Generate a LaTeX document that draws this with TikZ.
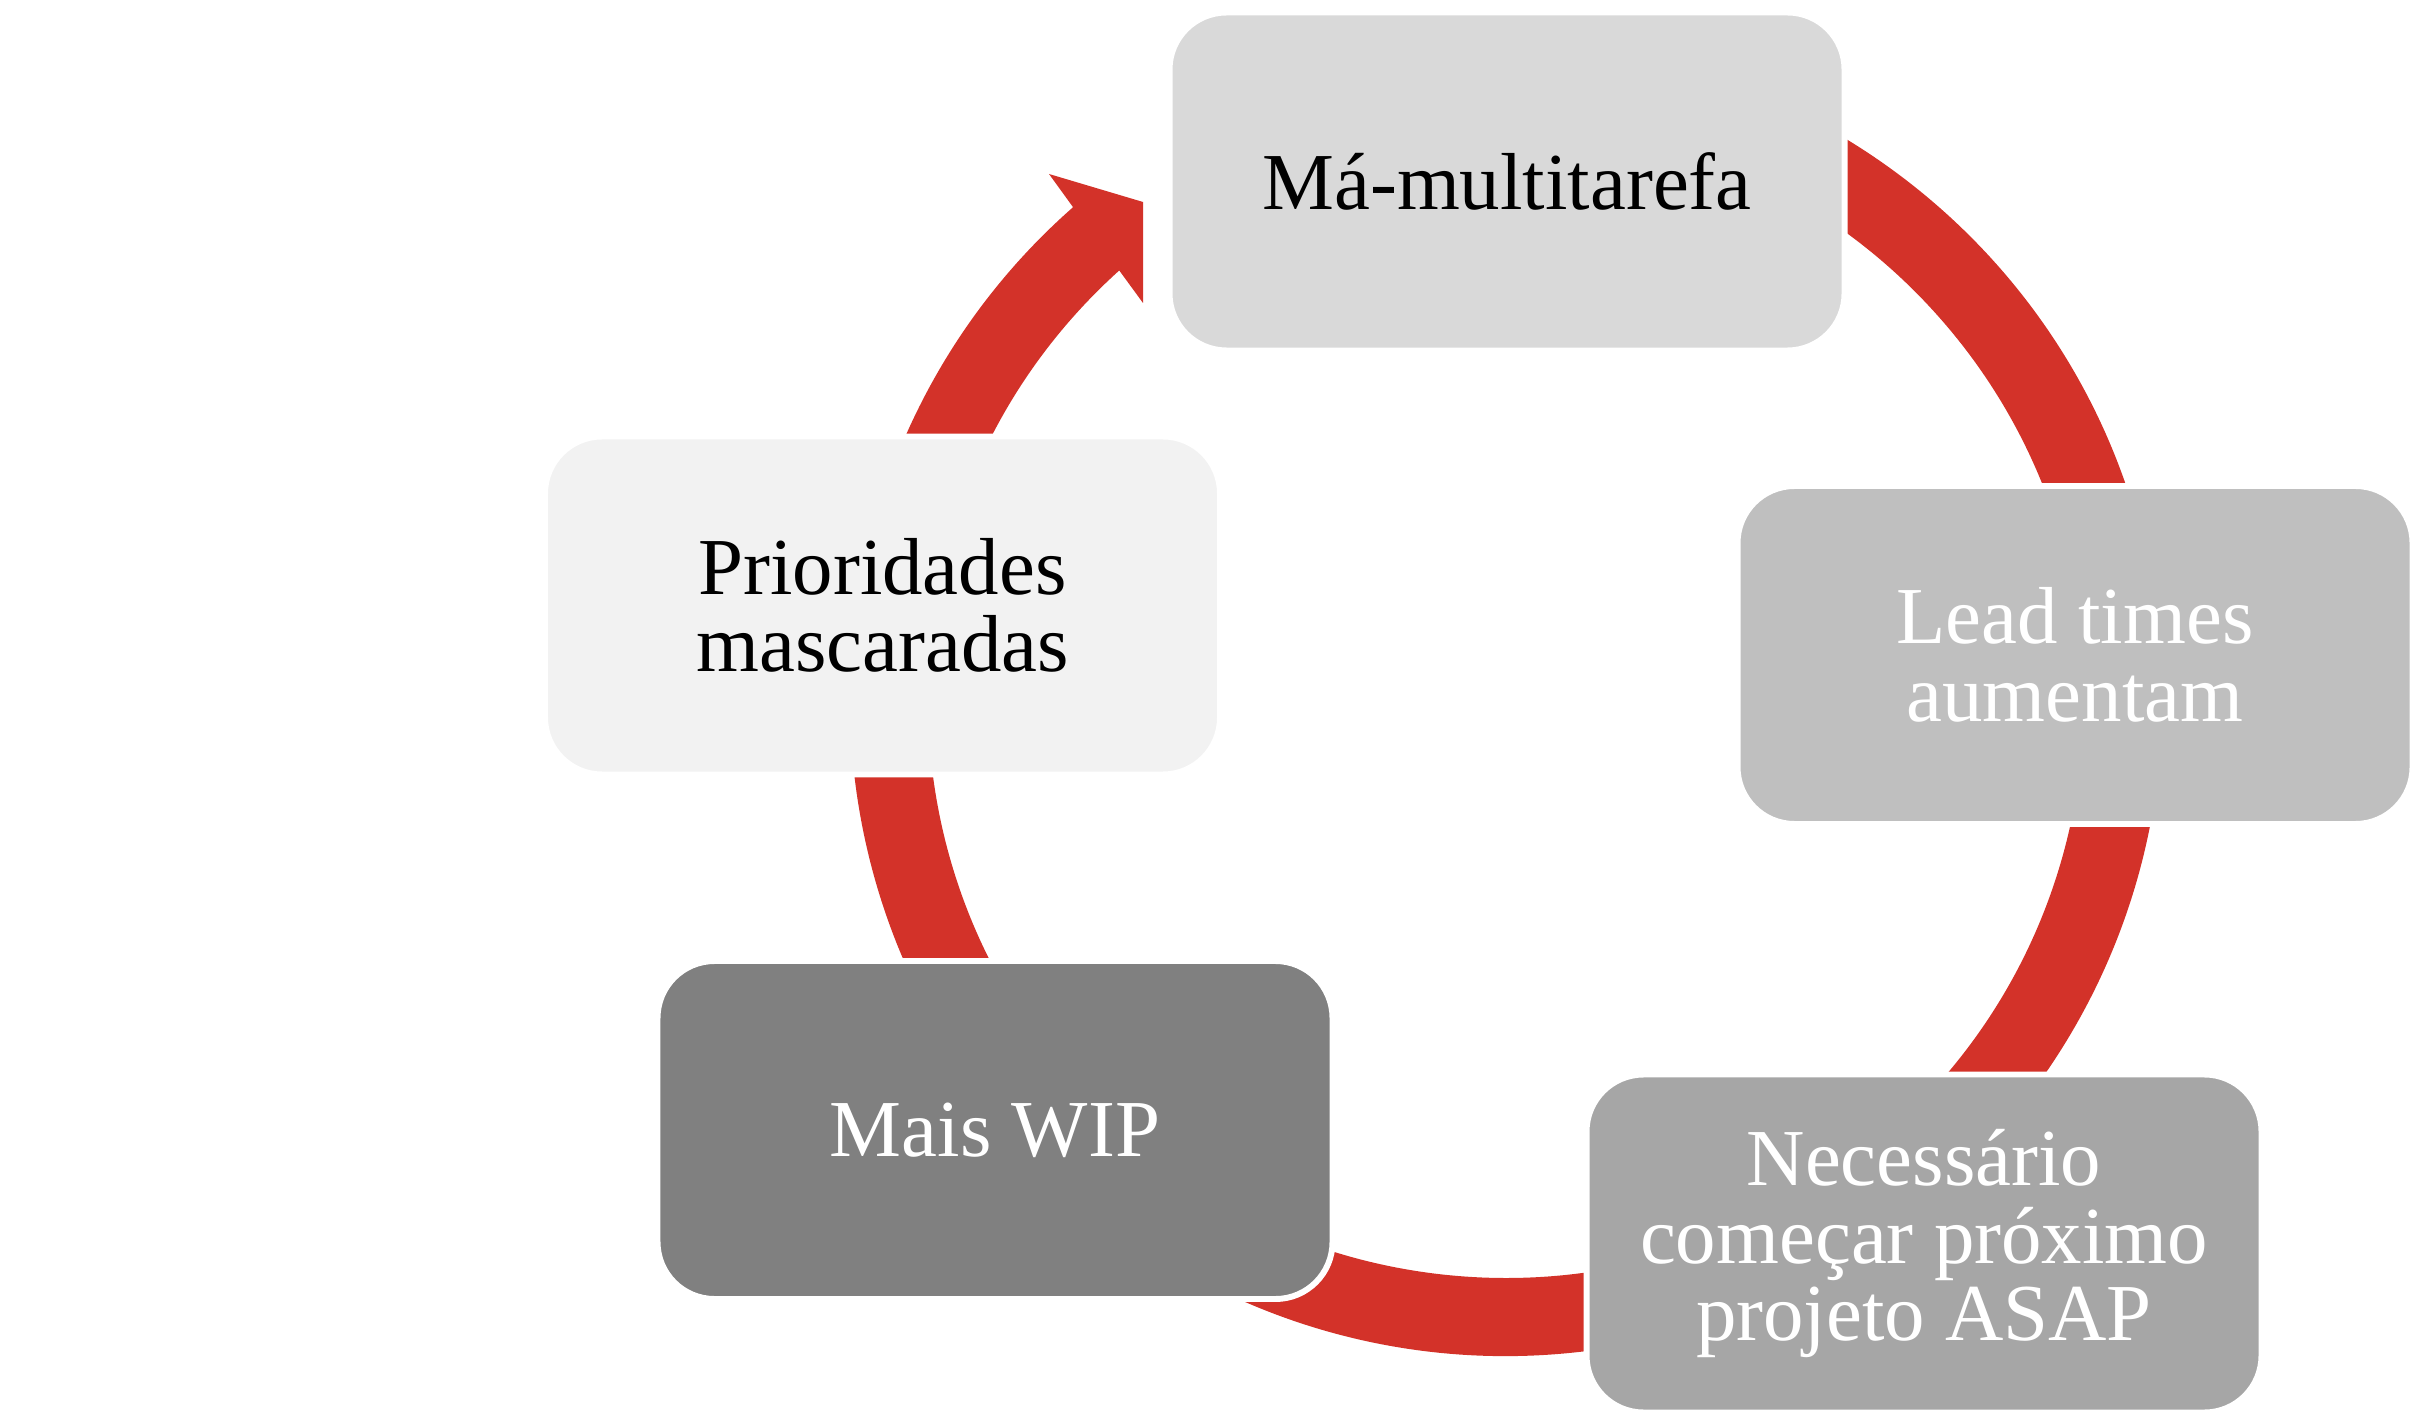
\documentclass[tikz,border=0pt]{standalone}
\usepackage{fontspec}
\setmainfont{Liberation Serif}
\usepackage{tikz}
\usetikzlibrary{shapes.geometric,calc}
\definecolor{loopred}{RGB}{211,50,41}
\definecolor{grayone}{RGB}{217,217,217}
\definecolor{graytwo}{RGB}{191,191,191}
\definecolor{graythree}{RGB}{166,166,166}
\definecolor{grayfour}{RGB}{128,128,128}
\definecolor{grayfive}{RGB}{242,242,242}
\newcommand{\stagefont}{\fontsize{23}{22}\selectfont}
\tikzstyle{stage1} = [rectangle, rounded corners=0.57cm, minimum width=6.75cm, minimum height=3.38cm, draw=white, line width=1.7pt, fill=grayone, text=black, align=center, font=\stagefont]
\tikzstyle{stage2} = [rectangle, rounded corners=0.57cm, minimum width=6.75cm, minimum height=3.38cm, draw=white, line width=1.7pt, fill=graytwo, text=white, align=center, font=\stagefont]
\tikzstyle{stage3} = [rectangle, rounded corners=0.57cm, minimum width=6.75cm, minimum height=3.38cm, draw=white, line width=1.7pt, fill=graythree, text=white, align=center, font=\stagefont]
\tikzstyle{stage4} = [rectangle, rounded corners=0.57cm, minimum width=6.75cm, minimum height=3.38cm, draw=white, line width=1.7pt, fill=grayfour, text=white, align=center, font=\stagefont]
\tikzstyle{stage5} = [rectangle, rounded corners=0.57cm, minimum width=6.75cm, minimum height=3.38cm, draw=white, line width=1.7pt, fill=grayfive, text=black, align=center, font=\stagefont]
\tikzstyle{loop} = [fill=loopred]
\begin{document}
\begin{tikzpicture}
\useasboundingbox (0,0) rectangle (24.14,14.14);
\coordinate (hub) at (15.06,7.14);
\coordinate (barb) at (10.49,12.40);
\coordinate (tiptop) at (11.43,12.12);
\coordinate (tipbot) at (11.43,11.11);
\fill[loop] (hub) ++(100:6.56) arc[start angle=100, end angle=-228.7, radius=6.56]
  -- (barb) -- (tiptop) -- (tipbot) -- ($(hub)+(132:5.78)$)
  arc[start angle=-228, end angle=100, radius=5.78] -- cycle;
\node (multi) [stage1] at (15.07,12.325) {Má-multitarefa};
\node (lead) [stage2] at (20.75,7.59) {Lead times\\aumentam};
\node (asap) [stage3] at (19.24,1.705) {Necessário\\começar próximo\\projeto ASAP};
\node (wip) [stage4] at (9.95,2.84) {Mais WIP};
\node (prio) [stage5] at (8.825,8.085) {Prioridades\\mascaradas};
\end{tikzpicture}
\end{document}
